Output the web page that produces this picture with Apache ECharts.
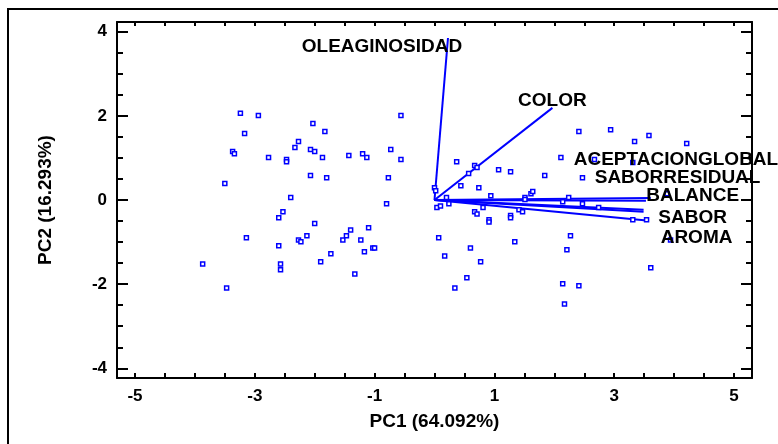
<!DOCTYPE html>
<html>
<head>
<meta charset="utf-8">
<script src="https://cdn.jsdelivr.net/npm/echarts@6/dist/echarts.min.js"></script>
<style>
html,body{margin:0;padding:0;background:#fff;}
#chart{width:778px;height:444px;}
</style>
</head>
<body>
<div id="chart"></div>
<script>
// ---- data ----
const pc1Scores = [-3.24,-2.94,-3.17,-3.37,-3.34,-2.77,-2.47,-2.47,-2.27,-2.33,-2.03,-1.83,-2.07,-2.00,-1.87,-2.07,-1.80,-3.50,-2.40,-2.53,-2.60,-3.14,-2.60,-2.27,-2.23,-2.13,-3.87,-2.57,-2.57,-3.47,-1.43,-1.20,-1.13,-0.73,-0.56,-0.56,-0.77,-0.80,-2.00,-1.40,-1.47,-1.53,-1.23,-1.10,-1.03,-1.00,-1.17,-1.73,-1.90,-1.33,
  0.37,0.67,0.71,0.57,1.07,1.27,0.44,0.74,0.94,0.00,0.02,0.04,0.10,0.20,0.24,0.67,0.71,0.81,0.91,0.91,1.27,1.27,1.51,1.51,1.61,1.64,1.41,1.47,2.14,2.24,2.47,2.74,2.11,1.84,2.47,2.67,0.07,0.60,0.17,1.34,0.77,0.54,0.34,2.27,2.21,2.14,2.41,2.17,3.61,3.94,2.41,2.94,3.34,3.58,4.21,3.31,3.31,3.54,3.88];
const pc2Scores = [2.06,2.01,1.58,1.15,1.10,1.01,0.96,0.91,1.39,1.25,1.82,1.63,1.20,1.15,1.01,0.58,0.53,0.39,0.06,-0.28,-0.42,-0.90,-1.09,-0.95,-0.99,-0.85,-1.52,-1.52,-1.66,-2.09,1.06,1.10,1.01,1.20,2.01,0.96,0.53,-0.09,-0.56,-0.71,-0.85,-0.95,-0.95,-0.66,-1.14,-1.14,-1.23,-1.28,-1.47,-1.76,
  0.91,0.82,0.77,0.63,0.72,0.67,0.34,0.29,0.10,0.29,0.22,-0.18,-0.14,0.06,-0.09,-0.28,-0.33,-0.18,-0.47,-0.52,-0.37,-0.42,0.06,0.01,0.15,0.20,-0.23,-0.28,-0.04,0.06,-0.09,-0.18,1.01,0.58,0.53,0.96,-0.90,-1.14,-1.33,-0.99,-1.47,-1.85,-2.09,-0.85,-1.18,-1.99,-2.04,-2.47,-1.61,-0.95,1.63,1.67,1.39,1.53,1.34,0.89,-0.47,-0.47,0.15];
const variableNames = ['OLEAGINOSIDAD','COLOR','ACEPTACIONGLOBAL','SABORRESIDUAL','BALANCE','SABOR','AROMA'];
const loadingPC1 = [0.225,1.968,3.53,3.49,3.61,3.49,3.54];
const loadingPC2 = [3.85,2.19,-0.02,-0.23,0.05,-0.28,-0.49];
const xTickLabels = [-5,-3,-1,1,3,5];
const yTickLabels = [-4,-2,0,2,4];
const xTicks = [-5,-4.5,-4,-3.5,-3,-2.5,-2,-1.5,-1,-0.5,0,0.5,1,1.5,2,2.5,3,3.5,4,4.5,5];
const yTicks = [-4,-3.5,-3,-2.5,-2,-1.5,-1,-0.5,0,0.5,1,1.5,2,2.5,3,3.5,4];
const xTitle = 'PC1 (64.092%)';
const yTitle = 'PC2 (16.293%)';

// ---- styling (not data) ----
const labelOffsets = {
  'OLEAGINOSIDAD':[-66,9],
  'COLOR':[0,-7],
  'ACEPTACIONGLOBAL':[30,-41],
  'SABORRESIDUAL':[34,-32],
  'BALANCE':[42,-2],
  'SABOR':[49,6],
  'AROMA':[50,17]
};
const FONT = "'Liberation Sans', Arial, sans-serif";
const BLUE = '#0000ff';
const XMIN=-5.3, XMAX=5.3, YMIN=-4.23, YMAX=4.23;

const chart = echarts.init(document.getElementById('chart'), null, {renderer:'canvas'});

function xAx(pos, showLabel, tickLen, name){
  return {
    type:'value', position:pos, min:XMIN, max:XMAX, gridIndex:0,
    axisLine:{show:true, onZero:false, lineStyle:{color:'#000', width:2}},
    axisTick:{show:true, inside:true, length:tickLen, customValues:xTicks, lineStyle:{color:'#000', width:2}},
    axisLabel:{show:showLabel, customValues:xTickLabels, margin:10, color:'#000', fontSize:17, fontWeight:'bold', fontFamily:FONT},
    splitLine:{show:false},
    name: name || '', nameLocation:'middle', nameGap:34,
    nameTextStyle:{color:'#000', fontSize:19, fontWeight:'bold', fontFamily:FONT}
  };
}
function yAx(pos, showLine, showLabel, tickLen, ticks, name){
  return {
    type:'value', position:pos, min:YMIN, max:YMAX, gridIndex:0,
    axisLine:{show:showLine, onZero:false, lineStyle:{color:'#000', width:2}},
    axisTick:{show:true, inside:true, length:tickLen, customValues:ticks, lineStyle:{color:'#000', width:2}},
    axisLabel:{show:showLabel, customValues:yTickLabels, margin:10, color:'#000', fontSize:17, fontWeight:'bold', fontFamily:FONT},
    splitLine:{show:false},
    name: name || '', nameLocation:'middle', nameGap:62, nameRotate:90,
    nameTextStyle:{color:'#000', fontSize:19, fontWeight:'bold', fontFamily:FONT}
  };
}

const scoreData = pc1Scores.map((v,i)=>[v, pc2Scores[i]]);
const vectorSeries = variableNames.map((n,i)=>({
  type:'line', xAxisIndex:0, yAxisIndex:0, z:2,
  data:[[0,0],[loadingPC1[i], loadingPC2[i]]],
  showSymbol:false, symbol:'none', animation:false, silent:true,
  lineStyle:{color:BLUE, width:2}
}));

const labelData = variableNames.map((n,i)=>({
  name:n, value:[loadingPC1[i], loadingPC2[i]],
  label:{offset:labelOffsets[n]}
}));

chart.setOption({
  animation:false,
  backgroundColor:'#fff',
  grid:{left:117, right:26, top:22, bottom:66, containLabel:false},
  xAxis:[ xAx('bottom', true, 5, xTitle), xAx('top', false, 4) ],
  yAxis:[
    yAx('left', true, true, 6, yTicks, yTitle),
    yAx('left', false, false, 11, yTickLabels),
    yAx('right', true, false, 6, yTicks),
    yAx('right', false, false, 11, yTickLabels)
  ],
  graphic:[{
    type:'rect', z:100, silent:true,
    shape:{x:8, y:9, width:900, height:700},
    style:{fill:'none', stroke:'#000', lineWidth:2}
  }],
  series:[
    ...vectorSeries,
    {
      type:'scatter', xAxisIndex:0, yAxisIndex:0, z:3,
      data:scoreData, symbol:'rect', symbolSize:4,
      itemStyle:{color:'#fff', borderColor:BLUE, borderWidth:1.5, opacity:1},
      silent:true
    },
    {
      type:'scatter', xAxisIndex:0, yAxisIndex:0, z:5,
      data:labelData, symbol:'circle', symbolSize:1, silent:true, clip:false,
      itemStyle:{color:'rgba(255,255,255,0)'},
      label:{show:true, position:'inside', align:'center', verticalAlign:'middle', formatter:'{b}',
        color:'#000', opacity:1, textBorderWidth:0, textBorderColor:'rgba(0,0,0,0)',
        fontSize:19, fontWeight:'bold', fontFamily:FONT}
    }
  ]
});
</script>
</body>
</html>
